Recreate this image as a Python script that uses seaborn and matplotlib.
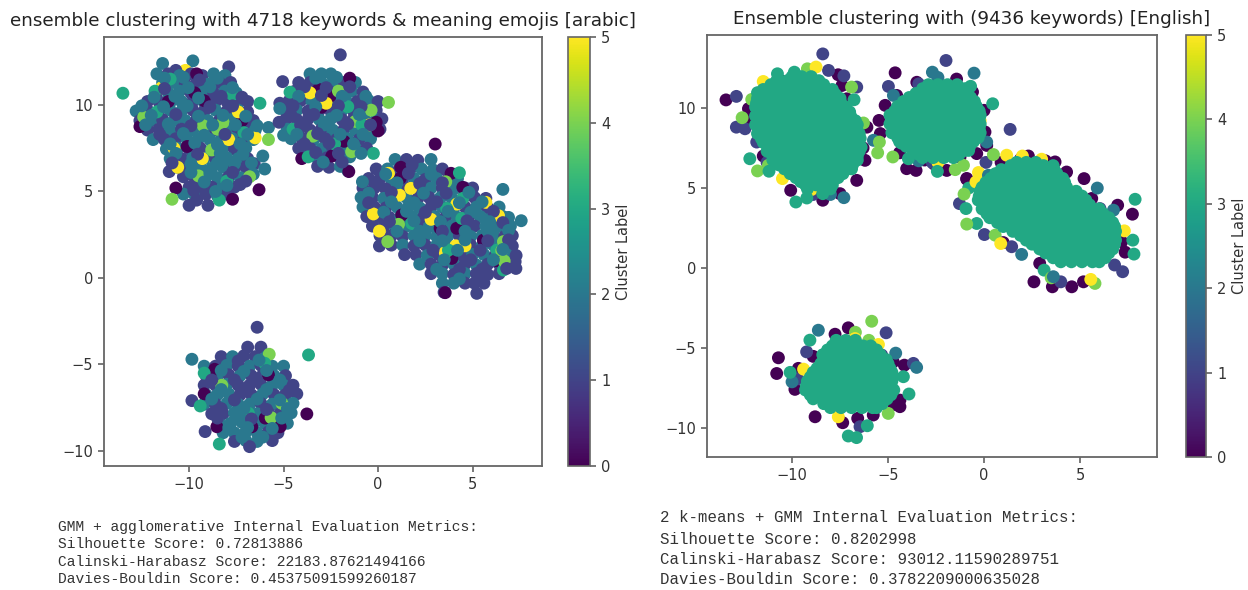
import pandas as pd
import seaborn as sns
import matplotlib.pyplot as plt
from matplotlib.cm import ScalarMappable
from matplotlib.colors import Normalize

W, H = 1248, 590

title_left = "ensemble clustering with 4718 keywords & meaning emojis [arabic]"
title_right = "Ensemble clustering with (9436 keywords) [English]"
metrics_left = [
    "GMM + agglomerative Internal Evaluation Metrics:",
    "Silhouette Score: 0.72813886",
    "Calinski-Harabasz Score: 22183.87621494166",
    "Davies-Bouldin Score: 0.45375091599260187",
]
metrics_right = [
    "2 k-means + GMM Internal Evaluation Metrics:",
    "Silhouette Score: 0.8202998",
    "Calinski-Harabasz Score: 93012.11590289751",
    "Davies-Bouldin Score: 0.3782209000635028",
]

# left panel: (x, y, cluster label), in drawing order
left_a = [
    (-11.4,12.4,2),(-9.8,12.55,2),(-10.2,12.0,5),(-10.7,12.0,1),(-7.9,12.2,1),
    (-11.7,11.8,2),(-11.1,11.8,1),(-10.5,11.7,2),(-9.9,11.8,1),(-9.3,11.7,1),(-8.7,11.8,2),(-8.1,11.7,2),
    (-11.4,11.3,2),(-10.8,11.3,2),(-10.2,11.2,1),(-9.6,11.3,1),(-9.0,11.2,2),(-8.4,11.3,1),(-7.8,11.3,1),
    (-11.7,10.75,1),(-11.1,10.7,2),(-10.5,10.8,2),(-9.9,10.7,1),(-9.3,10.75,2),(-8.7,10.7,1),(-8.1,10.8,2),(-7.5,10.7,2),
    (-12.2,10.2,1),(-11.6,10.2,1),(-11.0,10.15,2),(-10.4,10.2,2),(-9.8,10.2,1),(-9.2,10.15,2),(-8.6,10.2,1),(-8.0,10.2,1),(-7.4,10.2,1),(-6.9,10.2,1),
    (-12.8,9.65,2),(-12.2,9.7,1),(-11.6,9.65,2),(-11.0,9.7,2),(-10.4,9.65,2),(-9.8,9.7,1),(-9.2,9.65,1),(-8.6,9.7,2),(-8.0,9.65,1),(-7.4,9.7,2),(-6.9,9.6,1),
    (-12.6,9.1,1),(-12.0,9.1,2),(-11.4,9.15,1),(-10.8,9.1,2),(-10.2,9.1,2),(-9.6,9.15,1),(-9.0,9.1,2),(-8.4,9.1,1),(-7.8,9.15,2),(-7.2,9.1,1),(-6.6,9.1,1),
    (-12.2,8.55,1),(-11.6,8.6,1),(-11.0,8.55,2),(-10.4,8.6,1),(-9.8,8.55,2),(-9.2,8.6,2),(-8.6,8.55,1),(-8.0,8.6,2),(-7.4,8.55,1),(-6.8,8.6,1),
    (-11.9,8.0,2),(-11.3,8.0,1),(-10.7,8.05,1),(-10.1,8.0,2),(-9.5,8.05,2),(-8.9,8.0,2),(-8.3,8.0,2),(-7.7,8.05,2),(-7.1,8.0,1),(-6.6,8.0,2),
    (-11.2,7.45,2),(-10.6,7.5,2),(-10.0,7.45,1),(-9.4,7.5,1),(-8.8,7.45,2),(-8.2,7.5,2),(-7.6,7.45,1),(-7.0,7.5,2),
    (-11.0,6.9,2),(-10.4,6.9,1),(-9.8,6.95,2),(-9.2,6.9,2),(-8.6,6.9,1),(-8.0,6.95,2),(-7.4,6.9,2),(-6.9,6.9,1),
    (-11.05,6.15,1),(-10.6,6.4,2),(-10.0,6.35,1),(-9.4,6.4,2),(-8.8,6.35,2),(-8.2,6.4,2),(-7.6,6.35,1),(-7.0,6.4,1),
    (-10.3,5.85,1),(-9.7,5.8,1),(-9.1,5.85,2),(-8.5,5.8,2),(-7.9,5.85,1),(-7.3,5.8,2),
    (-10.0,5.25,1),(-9.4,5.3,1),(-8.8,5.25,1),(-8.2,5.3,2),(-7.6,5.25,1),(-7.3,5.4,1),
    (-10.3,4.85,2),(-9.7,4.8,2),(-9.1,4.85,1),(-8.5,4.75,2),(-8.0,4.85,1),
    (-10.0,4.2,1),(-9.0,4.2,1),(-9.6,4.5,1),
    (-6.55,6.6,1),(-6.6,6.0,2),(-6.5,8.55,2),(-5.8,8.7,2),(-6.1,7.05,2),(-6.0,6.3,2),
    (-12.6,8.75,0),(-10.1,7.6,0),(-9.2,10.25,0),(-7.2,9.1,0),(-10.7,5.2,0),(-6.3,5.1,0),(-7.7,4.55,0),(-9.6,11.8,0),(-9.7,10.7,0),(-11.1,10.2,0),
    (-11.45,11.0,5),(-10.8,7.5,5),(-9.3,6.9,5),(-10.6,6.4,5),(-7.9,8.0,5),(-6.5,8.1,5),(-7.4,9.6,5),
    (-8.2,9.0,4),(-12.4,9.3,4),(-9.25,8.8,4),(-8.5,8.6,4),(-9.5,5.9,4),(-10.9,4.55,4),(-5.8,8.0,4),(-6.8,5.85,4),(-8.8,7.4,4),
    (-13.5,10.68,3),(-11.0,11.5,3),(-11.7,9.6,3),(-7.7,10.6,3),(-6.25,10.1,3),(-7.1,8.4,3),(-8.4,4.5,3),(-8.0,5.6,3),(-11.8,10.8,3),
]
left_a_top = [
    (-11.3,11.55,2),(-10.3,11.6,2),(-9.45,11.45,1),(-8.5,11.55,2),(-7.7,11.0,2),(-8.9,11.05,2),(-10.05,11.0,2),(-11.3,10.95,1),
    (-11.85,10.45,2),(-10.75,10.5,2),(-9.5,10.4,2),(-8.3,10.5,1),(-7.2,10.45,1),(-12.5,9.95,2),(-11.35,9.9,2),(-10.1,9.95,2),(-8.9,9.9,1),(-7.7,9.95,1),
    (-12.0,9.4,2),(-10.7,9.45,1),(-9.5,9.35,2),(-8.2,9.4,2),(-7.0,9.35,2),(-12.3,8.85,2),(-11.1,8.9,2),(-9.9,8.8,1),(-8.75,8.85,2),(-7.55,8.85,2),(-6.4,8.8,2),
    (-11.55,8.3,1),(-10.3,8.35,2),(-9.2,8.25,2),(-8.1,8.3,1),(-6.9,8.3,2),(-11.0,7.75,2),(-9.7,7.8,2),(-8.5,7.7,2),(-7.3,7.75,2),
    (-10.7,7.2,2),(-9.55,7.15,1),(-8.35,7.2,2),(-7.15,7.15,2),(-10.9,6.65,1),(-9.9,6.6,2),(-8.5,6.65,2),(-7.6,6.6,2),(-6.7,6.65,2),
    (-9.9,6.1,2),(-8.9,6.05,2),(-7.7,6.1,1),(-9.2,5.55,2),(-8.0,5.35,2),(-7.0,5.6,1),(-9.75,5.05,1),(-8.6,5.0,2),
]
left_b = [
    (-3.6,11.8,2),(-3.0,11.8,2),(-2.5,11.8,2),
    (-4.2,11.3,1),(-3.6,11.3,1),(-3.0,11.3,2),(-2.4,11.3,2),(-1.8,11.3,1),(-1.2,11.3,2),
    (-4.4,10.8,1),(-3.8,10.8,2),(-3.2,10.75,1),(-2.6,10.8,1),(-2.0,10.75,2),(-1.4,10.8,2),(-0.8,10.75,1),
    (-4.7,10.25,1),(-4.1,10.25,1),(-3.5,10.2,2),(-2.9,10.25,1),(-2.3,10.2,2),(-1.7,10.25,2),(-1.1,10.2,1),(-0.5,10.25,2),(0.0,10.2,1),
    (-4.9,9.7,1),(-4.3,9.7,2),(-3.7,9.65,1),(-3.1,9.7,1),(-2.5,9.65,1),(-1.9,9.7,2),(-1.3,9.65,1),(-0.7,9.7,1),(-0.1,9.7,1),
    (-4.9,9.15,1),(-4.3,9.15,1),(-3.7,9.2,1),(-3.1,9.15,2),(-2.5,9.2,2),(-1.9,9.15,1),(-1.3,9.2,1),(-0.7,9.15,2),(-0.1,9.15,2),(0.2,9.2,1),
    (-4.8,8.6,2),(-4.2,8.6,1),(-3.6,8.55,1),(-3.0,8.6,1),(-2.4,8.55,2),(-1.8,8.6,1),(-1.2,8.55,2),(-0.6,8.6,2),(0.1,8.6,1),
    (-4.6,8.05,2),(-4.0,8.05,1),(-3.4,8.0,2),(-2.8,8.05,1),(-2.2,8.0,1),(-1.6,8.05,2),(-1.0,8.0,1),(-0.4,8.05,2),
    (-4.2,7.5,1),(-3.6,7.5,1),(-3.0,7.45,2),(-2.4,7.5,1),(-1.8,7.45,2),(-1.2,7.5,2),(-0.6,7.5,1),
    (-3.9,7.0,1),(-3.3,7.0,2),(-2.7,6.95,1),(-2.1,7.0,1),(-1.5,7.0,2),
    (-3.2,6.45,1),(-2.6,6.4,1),(-2.0,6.45,2),(-1.6,6.2,2),
    (-2.0,12.9,1),(-5.05,11.35,1),(-5.2,10.1,1),(-5.24,9.0,1),(-5.0,8.25,2),(-5.2,9.8,2),
    (-3.15,10.9,0),(-2.54,10.5,0),(-3.0,9.87,0),(-1.5,11.55,0),(-0.1,9.0,0),(0.0,8.5,0),(-2.45,7.05,0),(-1.8,7.9,0),(-4.04,6.9,0),(-1.55,6.15,0),
    (-3.6,10.7,5),(-2.75,10.1,5),(-0.46,8.85,5),
    (-2.1,10.8,4),(-0.37,9.7,4),(-1.4,7.3,4),(-3.45,8.2,4),(-1.2,9.05,4),(0.55,10.15,4),
    (-4.5,8.6,3),(-2.3,7.75,3),(-3.7,7.0,3),(-1.6,9.9,3),(-0.86,8.85,3),(-4.66,10.74,3),(-0.25,7.2,3),
]
left_b_top = [
    (-3.3,11.55,2),(-2.2,11.6,2),(-3.9,11.05,1),(-2.75,11.0,1),(-1.5,11.05,1),(-4.2,10.5,2),(-3.0,10.55,1),(-1.9,10.5,2),(-0.65,10.5,2),
    (-4.5,9.95,1),(-3.3,9.9,2),(-2.1,9.95,1),(-0.9,9.9,1),(-4.6,9.4,1),(-3.4,9.45,1),(-2.2,9.4,2),(-1.0,9.45,2),(-4.1,8.85,1),(-2.85,8.85,2),(-1.6,8.9,1),(-0.4,8.85,1),
    (-4.3,8.3,2),(-3.2,8.35,1),(-2.0,8.3,2),(-0.8,8.3,2),(-3.9,7.75,1),(-2.6,7.8,1),(-1.3,7.75,2),(-3.3,7.25,1),(-2.1,7.2,1),(-0.9,7.2,2),(-2.9,6.7,2),(-1.9,6.7,1),
]
left_c = [
    (0.9,6.85,2),(1.5,6.85,1),(2.1,6.8,1),(2.8,6.85,2),
    (-0.1,6.3,1),(0.5,6.3,2),(1.1,6.25,1),(1.7,6.3,1),(2.3,6.3,2),(2.9,6.25,2),(3.4,6.3,1),
    (-0.5,5.75,1),(0.1,5.75,1),(0.7,5.7,2),(1.3,5.75,1),(1.9,5.75,2),(2.5,5.7,1),(3.1,5.75,2),(3.7,5.7,1),(4.2,5.75,2),
    (-0.8,5.2,1),(-0.2,5.2,1),(0.4,5.15,1),(1.0,5.2,2),(1.6,5.2,1),(2.2,5.15,1),(2.8,5.2,2),(3.4,5.2,1),(4.0,5.15,2),(4.6,5.2,1),(5.0,5.2,1),
    (-0.9,4.65,2),(-0.3,4.65,1),(0.3,4.6,2),(0.9,4.65,2),(1.5,4.65,2),(2.1,4.6,1),(2.7,4.65,1),(3.3,4.65,2),(3.9,4.6,2),(4.5,4.65,1),(5.1,4.65,1),(5.7,4.6,1),
    (-0.8,4.1,2),(-0.2,4.1,1),(0.4,4.05,1),(1.0,4.1,2),(1.6,4.1,2),(2.2,4.05,2),(2.8,4.1,1),(3.4,4.1,2),(4.0,4.05,2),(4.6,4.1,1),(5.2,4.1,2),(5.8,4.05,1),(6.4,4.1,2),
    (-0.6,3.55,1),(0.0,3.55,1),(0.6,3.5,1),(1.2,3.55,2),(1.8,3.55,2),(2.4,3.5,1),(3.0,3.55,2),(3.6,3.55,1),(4.2,3.5,2),(4.8,3.55,1),(5.4,3.55,2),(6.0,3.5,2),(6.6,3.55,2),(6.9,3.5,2),
    (-0.3,3.0,1),(0.3,3.0,1),(0.9,2.95,2),(1.5,3.0,2),(2.1,3.0,1),(2.7,2.95,2),(3.3,3.0,1),(3.9,3.0,2),(4.5,2.95,2),(5.1,3.0,1),(5.7,3.0,2),(6.3,2.95,2),(7.0,3.0,2),
    (0.1,2.45,1),(0.7,2.45,1),(1.3,2.4,1),(1.9,2.45,2),(2.5,2.45,2),(3.1,2.4,2),(3.7,2.45,2),(4.3,2.45,1),(4.9,2.4,2),(5.5,2.45,2),(6.1,2.45,2),(6.7,2.4,1),(7.1,2.45,1),
    (0.7,1.9,1),(1.3,1.9,2),(1.9,1.85,1),(2.5,1.9,1),(3.1,1.9,2),(3.7,1.85,2),(4.3,1.9,1),(4.9,1.9,1),(5.5,1.85,2),(6.1,1.9,2),(6.7,1.9,2),(7.1,1.85,1),
    (1.4,1.35,1),(2.0,1.35,1),(2.6,1.3,2),(3.2,1.35,1),(3.8,1.35,2),(4.4,1.3,1),(5.0,1.35,2),(5.6,1.35,2),(6.2,1.3,1),(6.8,1.35,2),(7.3,1.3,1),
    (2.2,0.8,2),(2.8,0.8,1),(3.4,0.75,1),(4.0,0.8,2),(4.6,0.8,1),(5.2,0.75,2),(5.8,0.8,1),(6.4,0.8,1),(7.25,0.94,1),
    (2.8,0.25,1),(3.4,0.25,2),(4.0,0.2,1),(4.6,0.25,2),(5.2,0.25,1),(5.8,0.2,1),(6.4,0.25,1),(7.29,0.55,1),
    (3.4,-0.3,2),(4.0,-0.3,2),(4.6,-0.3,1),(5.1,-0.3,1),(5.6,-0.3,1),
    (3.49,-0.83,1),(5.22,-0.89,1),(0.07,1.85,1),(-0.83,5.56,2),(6.6,5.12,2),(7.57,3.31,2),(3.55,-0.85,0),
    (3.02,7.74,0),(1.17,5.76,0),(4.48,5.24,0),(3.28,2.87,0),(4.16,2.87,0),(1.25,3.64,0),(5.57,2.19,0),(3.9,1.13,0),(6.28,1.0,0),(3.86,6.05,0),(1.2,6.4,0),
    (1.73,5.18,5),(2.8,3.39,5),(5.7,4.37,5),(6.37,3.6,5),(-0.25,3.7,5),(0.07,2.71,5),(4.11,1.86,5),(3.55,1.48,5),(4.6,1.86,5),(0.55,6.05,5),(1.13,4.79,5),(4.16,4.27,5),
    (4.3,6.08,3),(1.78,3.15,3),(3.63,4.02,3),(4.43,3.44,3),(3.72,1.61,3),(6.28,1.61,3),(6.63,0.46,3),(4.48,4.6,3),
    (0.51,2.1,4),(3.58,5.56,4),(1.08,3.1,4),(6.54,1.58,4),(6.67,0.98,4),(6.63,2.1,4),
]
left_c_top = [
    (1.8,6.55,1),(0.4,6.0,2),(1.6,6.05,1),(2.8,6.0,2),(-0.1,5.45,1),(1.0,5.5,2),(2.2,5.45,1),(3.4,5.5,1),(-0.5,4.9,2),(0.7,4.95,1),(2.4,4.9,2),(3.6,4.9,1),(4.8,4.95,2),
    (-0.5,4.35,1),(0.7,4.4,2),(1.9,4.35,2),(3.1,4.4,1),(4.3,4.35,2),(5.5,4.4,2),(0.3,3.8,2),(1.5,3.85,2),(2.5,3.8,1),(3.7,3.85,2),(4.9,3.8,2),(6.1,3.85,1),
    (0.6,3.25,1),(1.9,3.3,2),(3.3,3.25,2),(4.7,3.3,1),(5.9,3.25,2),(6.6,3.2,1),(1.0,2.7,2),(2.2,2.7,2),(3.4,2.7,1),(4.6,2.7,2),(5.8,2.7,2),(6.9,2.75,2),
    (2.2,2.15,2),(3.4,2.15,2),(4.6,2.2,2),(5.8,2.15,1),(6.9,2.2,1),(2.9,1.6,1),(4.2,1.6,2),(5.4,1.6,1),(6.6,1.65,2),(3.5,1.05,2),(4.9,1.05,1),(6.1,1.05,2),
    (3.1,0.5,2),(4.3,0.5,1),(5.5,0.5,1),(6.8,0.55,1),(4.3,-0.05,2),(5.5,0.0,1),
]
left_d = [
    (-6.9,-4.0,1),(-6.2,-4.0,1),(-6.4,-2.85,1),
    (-8.3,-4.55,1),(-7.7,-4.55,2),(-7.1,-4.5,1),(-6.5,-4.55,1),(-5.9,-4.55,2),
    (-9.2,-5.1,2),(-8.6,-5.1,1),(-8.0,-5.05,2),(-7.4,-5.1,1),(-6.8,-5.1,2),(-6.2,-5.05,1),(-5.6,-5.1,2),(-5.0,-5.1,2),
    (-9.1,-5.65,1),(-8.5,-5.65,2),(-7.9,-5.6,1),(-7.3,-5.65,2),(-6.7,-5.65,1),(-6.1,-5.6,1),(-5.5,-5.65,2),(-4.9,-5.65,1),
    (-9.2,-6.2,1),(-8.6,-6.2,1),(-8.0,-6.15,2),(-7.4,-6.2,1),(-6.8,-6.2,1),(-6.2,-6.15,1),(-5.6,-6.2,2),(-5.0,-6.2,2),(-4.5,-6.2,1),
    (-9.1,-6.75,2),(-8.5,-6.75,2),(-7.9,-6.7,2),(-7.3,-6.75,1),(-6.7,-6.75,1),(-6.1,-6.7,2),(-5.5,-6.75,1),(-4.9,-6.75,1),(-4.3,-6.7,1),
    (-9.2,-7.3,2),(-8.6,-7.3,1),(-8.0,-7.25,2),(-7.4,-7.3,2),(-6.8,-7.3,2),(-6.2,-7.25,1),(-5.6,-7.3,2),(-5.0,-7.3,2),(-4.5,-7.25,2),
    (-8.8,-7.85,1),(-8.2,-7.85,1),(-7.6,-7.8,2),(-7.0,-7.85,1),(-6.4,-7.85,2),(-5.8,-7.8,1),(-5.2,-7.85,1),(-4.6,-7.8,2),
    (-8.4,-8.4,2),(-7.8,-8.4,2),(-7.2,-8.35,2),(-6.6,-8.4,2),(-6.0,-8.4,2),(-5.4,-8.35,1),(-4.8,-8.4,2),
    (-8.2,-8.95,2),(-7.6,-8.95,2),(-7.0,-8.9,2),(-6.4,-8.95,2),(-5.8,-8.9,1),(-5.3,-8.95,1),
    (-7.6,-9.45,1),(-7.0,-9.4,2),(-6.4,-9.45,2),(-5.6,-9.4,1),
    (-9.15,-8.88,1),(-6.8,-9.75,1),(-9.85,-7.09,1),(-9.85,-4.7,2),(-8.4,-9.6,3),
    (-3.77,-7.86,0),(-8.65,-5.28,0),(-5.8,-5.6,0),(-6.68,-8.6,0),(-5.97,-8.1,0),(-8.53,-8.6,0),(-5.18,-8.6,0),(-9.2,-6.7,0),
    (-5.76,-4.41,4),(-8.27,-6.2,4),(-5.66,-8.07,4),(-5.09,-7.25,4),
    (-3.68,-4.45,3),(-9.41,-7.4,3),(-6.0,-4.93,3),(-6.86,-7.82,3),(-9.2,-5.5,3),
]
left_d_top = [
    (-7.4,-4.8,1),(-6.3,-4.75,2),(-8.3,-5.35,2),(-7.1,-5.4,2),(-5.9,-5.35,2),(-8.8,-5.9,1),(-7.6,-5.9,1),(-6.4,-5.95,1),(-5.2,-5.9,2),
    (-8.3,-6.45,2),(-7.1,-6.5,1),(-5.9,-6.45,2),(-4.7,-6.5,1),(-8.8,-7.0,2),(-7.6,-7.05,1),(-6.4,-7.0,2),(-5.2,-7.05,2),(-8.3,-7.55,1),(-7.1,-7.55,2),(-5.9,-7.6,1),(-4.8,-7.55,2),
    (-8.5,-8.1,1),(-7.3,-8.1,2),(-6.7,-8.15,1),(-5.1,-8.1,2),(-7.9,-8.65,2),(-6.9,-8.65,2),(-5.6,-8.7,2),(-7.2,-9.2,2),(-6.1,-9.2,2),
]

# right panel: points around each blob, then the solid core of label 3 as (y, [x, ...])
right_a_edge = [
    (-13.44,10.5,0),(-12.15,9.22,0),(-7.6,12.07,0),(-7.15,10.57,0),(-6.55,8.9,0),(-6.1,8.8,0),(-6.2,6.73,0),(-6.63,5.48,0),(-7.5,4.65,0),
    (-8.4,4.24,0),(-10.07,4.86,0),(-7.4,11.4,0),(-12.27,9.95,0),(-9.6,11.9,0),(-10.6,11.7,0),(-6.3,7.5,0),(-11.5,7.0,0),(-7.9,4.9,0),
    (-12.9,10.72,1),(-12.9,8.8,1),(-12.45,8.7,1),(-8.4,13.37,1),(-8.1,12.34,1),(-6.63,11.3,1),(-7.3,12.0,1),(-11.84,7.87,1),(-8.9,4.6,1),(-11.3,6.6,1),
    (-12.6,9.39,4),(-12.1,10.53,4),(-9.2,12.44,4),(-6.28,9.06,4),(-11.8,6.07,4),(-11.23,6.42,4),(-6.9,11.3,4),
    (-11.5,11.65,5),(-8.75,12.55,5),(-10.5,5.59,5),(-11.3,11.2,5),(-9.0,4.9,5),
    (-7.3,4.4,2),(-8.0,4.6,2),(-6.6,8.3,2),
    (-12.2,6.83,3),(-11.8,10.95,3),(-11.2,6.05,3),(-9.8,4.13,3),(-9.23,4.38,3),(-8.4,4.65,3),(-10.76,12.13,3),(-6.77,10.51,3),(-9.88,12.23,3),
]
right_a_core = [
    (11.95, [-10.0,-9.5,-9.0]),
    (11.7, [-10.8,-10.25,-9.7,-9.15,-8.6]),
    (11.45, [-11.1,-10.55,-10.0,-9.45,-8.9,-8.35]),
    (11.15, [-11.5,-10.95,-10.4,-9.85,-9.3,-8.75,-8.2,-7.9]),
    (10.85, [-11.6,-11.05,-10.5,-9.95,-9.4,-8.85,-8.3,-7.75]),
    (10.6, [-11.8,-11.25,-10.7,-10.15,-9.6,-9.05,-8.5,-7.95,-7.5]),
    (10.3, [-11.85,-11.3,-10.75,-10.2,-9.65,-9.1,-8.55,-8.0,-7.45]),
    (10.05, [-11.9,-11.35,-10.8,-10.25,-9.7,-9.15,-8.6,-8.05,-7.5,-7.2]),
    (9.75, [-11.65,-11.1,-10.55,-10.0,-9.45,-8.9,-8.35,-7.8,-7.25,-7.0]),
    (9.5, [-11.9,-11.35,-10.8,-10.25,-9.7,-9.15,-8.6,-8.05,-7.5,-6.95]),
    (9.2, [-11.65,-11.1,-10.55,-10.0,-9.45,-8.9,-8.35,-7.8,-7.25,-6.7]),
    (8.95, [-11.9,-11.35,-10.8,-10.25,-9.7,-9.15,-8.6,-8.05,-7.5,-6.95,-6.6]),
    (8.65, [-11.6,-11.05,-10.5,-9.95,-9.4,-8.85,-8.3,-7.75,-7.2,-6.65]),
    (8.4, [-11.8,-11.25,-10.7,-10.15,-9.6,-9.05,-8.5,-7.95,-7.4,-6.85,-6.5]),
    (8.1, [-11.6,-11.05,-10.5,-9.95,-9.4,-8.85,-8.3,-7.75,-7.2,-6.65,-6.45]),
    (7.85, [-11.5,-10.95,-10.4,-9.85,-9.3,-8.75,-8.2,-7.65,-7.1,-6.55]),
    (7.55, [-11.25,-10.7,-10.15,-9.6,-9.05,-8.5,-7.95,-7.4,-6.85,-6.4]),
    (7.3, [-11.3,-10.75,-10.2,-9.65,-9.1,-8.55,-8.0,-7.45,-6.9,-6.5]),
    (7.0, [-11.0,-10.45,-9.9,-9.35,-8.8,-8.25,-7.7,-7.15,-6.6]),
    (6.75, [-11.0,-10.45,-9.9,-9.35,-8.8,-8.25,-7.7,-7.15,-6.6]),
    (6.45, [-10.7,-10.15,-9.6,-9.05,-8.5,-7.95,-7.4,-6.85]),
    (6.2, [-10.4,-9.85,-9.3,-8.75,-8.2,-7.65,-7.1,-6.9]),
    (5.9, [-10.1,-9.55,-9.0,-8.45,-7.9,-7.35]),
    (5.65, [-9.8,-9.25,-8.7,-8.15,-7.6]),
    (5.4, [-9.55,-9.0,-8.45,-7.9]),
    (5.2, [-9.3,-8.75,-8.2,-7.9]),
    (4.95, [-9.2,-8.4,-8.0]),
]
right_b_edge = [
    (-3.5,11.6,0),(-1.43,11.8,0),(-5.15,10.16,0),(-5.47,9.22,0),(-5.4,8.4,0),(-4.55,10.78,0),(0.0,9.85,0),(0.05,8.5,0),(-0.38,7.15,0),(-1.25,6.94,0),
    (-4.03,6.21,0),(-3.54,6.1,0),(-1.94,6.1,0),(-3.1,6.75,0),(0.14,7.66,0),(-0.9,5.55,0),(-4.63,12.19,0),(-4.4,7.2,0),(-0.6,11.0,0),(-2.6,6.5,0),
    (-1.98,12.96,1),(-4.98,11.34,1),(1.36,8.66,1),(-2.7,6.6,1),(-3.4,11.5,1),(-0.8,11.2,1),
    (-0.52,12.17,2),(-2.69,12.23,2),(-4.72,10.78,2),(0.14,7.87,2),(-5.76,7.98,2),(-3.4,6.7,2),(-2.4,11.9,2),
    (-2.4,6.6,5),(-0.2,9.2,5),
    (-5.54,7.2,4),(-5.45,7.87,4),(-4.75,6.94,4),(-1.07,6.42,4),(-1.5,6.15,4),(-0.8,8.0,4),
    (0.45,10.26,3),(-2.43,6.04,3),(-3.94,6.83,3),(-0.7,11.35,3),(-4.3,7.8,3),
]
right_b_core = [
    (11.45, [-2.9,-2.4,-1.9,-1.4]),
    (11.2, [-3.2,-2.65,-2.1,-1.55,-1.0]),
    (10.9, [-3.55,-3.0,-2.45,-1.9,-1.35,-0.85]),
    (10.65, [-3.9,-3.35,-2.8,-2.25,-1.7,-1.15,-0.7]),
    (10.4, [-4.2,-3.65,-3.1,-2.55,-2.0,-1.45,-0.9,-0.5]),
    (10.1, [-4.5,-3.95,-3.4,-2.85,-2.3,-1.75,-1.2,-0.65,-0.4]),
    (9.8, [-4.65,-4.1,-3.55,-3.0,-2.45,-1.9,-1.35,-0.8,-0.25]),
    (9.55, [-4.9,-4.35,-3.8,-3.25,-2.7,-2.15,-1.6,-1.05,-0.5,-0.2]),
    (9.25, [-4.65,-4.1,-3.55,-3.0,-2.45,-1.9,-1.35,-0.8,-0.25]),
    (9.0, [-4.9,-4.35,-3.8,-3.25,-2.7,-2.15,-1.6,-1.05,-0.5,-0.2]),
    (8.7, [-4.65,-4.1,-3.55,-3.0,-2.45,-1.9,-1.35,-0.8,-0.25]),
    (8.45, [-4.8,-4.25,-3.7,-3.15,-2.6,-2.05,-1.5,-0.95,-0.4,-0.2]),
    (8.15, [-4.5,-3.95,-3.4,-2.85,-2.3,-1.75,-1.2,-0.65,-0.3]),
    (7.9, [-4.4,-3.85,-3.3,-2.75,-2.2,-1.65,-1.1,-0.55]),
    (7.6, [-4.05,-3.5,-2.95,-2.4,-1.85,-1.3,-0.75]),
    (7.35, [-3.7,-3.15,-2.6,-2.05,-1.5,-1.0,-0.8]),
    (7.1, [-3.4,-2.85,-2.3,-1.75,-1.3]),
    (6.9, [-3.2,-2.65,-2.1,-1.6]),
]
right_c_edge = [
    (-0.9,5.6,0),(0.89,6.6,0),(2.31,7.0,0),(3.7,6.63,0),(5.21,5.59,0),(5.61,4.35,0),(6.96,3.93,0),(7.73,3.37,0),(7.17,1.65,0),(2.6,-0.85,0),
    (3.56,-1.16,0),(4.57,-1.16,0),(5.18,-0.85,0),(7.35,1.0,0),(3.2,6.7,0),(1.9,6.8,0),(4.3,6.0,0),(6.5,2.9,0),(2.9,0.3,0),(1.0,1.6,0),
    (-1.28,4.03,1),(0.02,2.1,1),(7.22,-0.22,1),(6.04,3.72,1),(1.44,1.34,1),(4.0,-0.85,1),(0.1,6.6,1),(6.8,0.2,1),
    (7.87,4.3,3),(7.75,1.75,3),(7.81,0.88,3),(3.13,-0.12,3),(-0.94,3.72,3),(-0.38,2.79,3),(-0.8,5.0,3),
    (0.49,7.09,4),(-1.04,4.62,4),(-0.9,2.75,4),(0.58,2.06,4),(5.78,-0.95,4),(3.5,-0.6,4),
    (-0.29,5.97,5),(-0.42,5.38,5),(4.74,4.76,5),(7.31,2.33,5),(0.87,1.54,5),(1.18,7.05,5),(2.0,7.0,5),(5.56,-0.7,5),(3.0,6.8,5),
    (0.23,5.8,2),(1.96,0.86,2),(3.61,-0.53,2),(6.74,3.62,2),(5.9,5.0,2),
]
right_c_core = [
    (6.6, [1.7,2.2,2.7]),
    (6.4, [1.4,1.95,2.5,3.1,3.6]),
    (6.15, [0.9,1.45,2.0,2.55,3.1,3.65]),
    (5.9, [0.6,1.15,1.7,2.25,2.8,3.35,3.8]),
    (5.6, [0.35,0.9,1.45,2.0,2.55,3.1,3.65,4.1]),
    (5.35, [0.1,0.65,1.2,1.75,2.3,2.85,3.4,3.95,4.2]),
    (5.05, [-0.1,0.45,1.0,1.55,2.1,2.65,3.2,3.75,4.3]),
    (4.8, [-0.2,0.35,0.9,1.45,2.0,2.55,3.1,3.65,4.2,4.8]),
    (4.5, [-0.25,0.3,0.85,1.4,1.95,2.5,3.05,3.6,4.15,4.7,5.1]),
    (4.25, [-0.3,0.25,0.8,1.35,1.9,2.45,3.0,3.55,4.1,4.65,5.2,5.3]),
    (3.95, [0.0,0.55,1.1,1.65,2.2,2.75,3.3,3.85,4.4,4.95,5.5]),
    (3.7, [-0.1,0.45,1.0,1.55,2.1,2.65,3.2,3.75,4.3,4.85,5.4,6.0]),
    (3.4, [0.15,0.7,1.25,1.8,2.35,2.9,3.45,4.0,4.55,5.1,5.65,6.2]),
    (3.15, [0.3,0.85,1.4,1.95,2.5,3.05,3.6,4.15,4.7,5.25,5.8,6.35,6.5]),
    (2.85, [0.7,1.25,1.8,2.35,2.9,3.45,4.0,4.55,5.1,5.65,6.2,6.7]),
    (2.6, [1.0,1.55,2.1,2.65,3.2,3.75,4.3,4.85,5.4,5.95,6.5,6.8]),
    (2.3, [1.5,2.05,2.6,3.15,3.7,4.25,4.8,5.35,5.9,6.45,6.85]),
    (2.05, [1.9,2.45,3.0,3.55,4.1,4.65,5.2,5.75,6.3,6.8]),
    (1.75, [2.2,2.75,3.3,3.85,4.4,4.95,5.5,6.05,6.6,6.85]),
    (1.5, [2.5,3.05,3.6,4.15,4.7,5.25,5.8,6.35,6.8]),
    (1.2, [2.9,3.45,4.0,4.55,5.1,5.65,6.2,6.7]),
    (0.95, [3.2,3.75,4.3,4.85,5.4,5.95,6.5]),
    (0.65, [3.6,4.15,4.7,5.25,5.8,6.3]),
    (0.4, [4.0,4.55,5.1,5.65,6.0]),
]
right_d_edge = [
    (-10.71,-5.59,0),(-10.8,-6.57,0),(-7.07,-3.72,0),(-7.76,-4.12,0),(-9.67,-6.25,0),(-9.85,-7.56,0),(-8.8,-9.27,0),(-7.36,-9.64,0),(-6.58,-9.37,0),
    (-5.77,-9.16,0),(-4.38,-8.23,0),(-4.38,-8.64,0),(-4.15,-6.05,0),(-4.73,-5.84,0),(-8.9,-5.5,0),(-4.7,-8.5,0),
    (-5.1,-4.03,1),(-3.68,-5.94,1),(-9.24,-5.22,1),(-5.33,-5.42,1),(-9.7,-6.9,1),(-6.46,-9.89,1),
    (-8.63,-3.87,2),(-3.51,-6.19,2),(-10.0,-7.09,2),(-4.6,-5.3,2),
    (-5.85,-3.31,4),(-4.99,-9.06,4),(-6.7,-4.0,4),(-6.0,-4.5,4),
    (-5.5,-4.76,5),(-7.59,-9.27,5),(-6.72,-4.39,5),(-9.4,-6.3,5),
    (-7.07,-10.47,3),(-6.64,-10.57,3),(-6.08,-9.83,3),(-10.1,-6.5,3),(-9.07,-4.49,3),(-3.91,-7.85,3),(-4.2,-6.77,3),
]
right_d_core = [
    (-4.5, [-7.7,-7.2,-6.7]),
    (-4.85, [-7.9,-7.35,-6.8,-6.3,-5.9]),
    (-5.1, [-8.15,-7.6,-7.05,-6.5,-5.95,-5.6]),
    (-5.4, [-8.4,-7.85,-7.3,-6.75,-6.2,-5.65,-5.4]),
    (-5.7, [-8.2,-7.65,-7.1,-6.55,-6.0,-5.45,-5.1]),
    (-5.95, [-8.5,-7.95,-7.4,-6.85,-6.3,-5.75,-5.2,-5.0]),
    (-6.25, [-8.7,-8.15,-7.6,-7.05,-6.5,-5.95,-5.4,-4.9]),
    (-6.5, [-8.9,-8.35,-7.8,-7.25,-6.7,-6.15,-5.6,-5.05,-4.8]),
    (-6.8, [-9.05,-8.5,-7.95,-7.4,-6.85,-6.3,-5.75,-5.2,-4.75]),
    (-7.05, [-9.2,-8.65,-8.1,-7.55,-7.0,-6.45,-5.9,-5.35,-4.8]),
    (-7.35, [-9.25,-8.7,-8.15,-7.6,-7.05,-6.5,-5.95,-5.4,-4.85]),
    (-7.6, [-9.3,-8.75,-8.2,-7.65,-7.1,-6.55,-6.0,-5.45,-4.9,-4.7]),
    (-7.9, [-9.05,-8.5,-7.95,-7.4,-6.85,-6.3,-5.75,-5.2,-4.85]),
    (-8.15, [-8.9,-8.35,-7.8,-7.25,-6.7,-6.15,-5.6,-5.05]),
    (-8.45, [-8.35,-7.8,-7.25,-6.7,-6.15,-5.6,-5.3]),
    (-8.7, [-8.0,-7.45,-6.9,-6.35,-5.8,-5.6]),
]


def core_points(rows):
    return [(x, y, 3) for y, xs in rows for x in xs]


def add_axes_px(fig, left, top, right, bottom):
    return fig.add_axes([left / W, 1 - bottom / H, (right - left) / W, (bottom - top) / H])


def draw_panel(fig, points, box, cbar_box, xlim, ylim, title, title_x):
    df = pd.DataFrame(points, columns=["x", "y", "label"])
    ax = add_axes_px(fig, *box)
    sns.scatterplot(data=df, x="x", y="y", hue="label", palette="viridis", hue_norm=(0, 5),
                    s=86, linewidth=0, legend=False, ax=ax)
    ax.set_xlim(xlim)
    ax.set_ylim(ylim)
    ax.set_xlabel("")
    ax.set_ylabel("")
    ax.set_xticks([-10, -5, 0, 5])
    ax.set_yticks([-10, -5, 0, 5, 10])
    ax.tick_params(labelsize=10.5, labelcolor="#333333", color="#555555", width=1.1, length=4.5)
    for spine in ax.spines.values():
        spine.set_color("#666666")
        spine.set_linewidth(1.3)
    ax.set_title(title, fontsize=13.2, color="#222222", x=title_x, pad=8)

    cax = add_axes_px(fig, *cbar_box)
    cbar = fig.colorbar(ScalarMappable(norm=Normalize(0, 5), cmap="viridis"), cax=cax)
    cbar.set_label("Cluster Label", fontsize=10.5, color="#333333", labelpad=4)
    cbar.set_ticks([0, 1, 2, 3, 4, 5])
    cbar.ax.tick_params(labelsize=10.5, labelcolor="#333333", color="#555555", width=1.1, length=4.5)
    cbar.outline.set_edgecolor("#666666")
    cbar.outline.set_linewidth(1.2)


fig = plt.figure(figsize=(W / 100, H / 100), dpi=100)

draw_panel(fig, left_a + left_a_top + left_b + left_b_top + left_c + left_c_top + left_d + left_d_top,
           (104, 37, 542, 466), (568, 37, 590, 466),
           (-14.5, 8.67), (-10.87, 13.93), title_left, 0.5)

right_points = (right_a_edge + core_points(right_a_core) + right_b_edge + core_points(right_b_core)
                + right_c_edge + core_points(right_c_core) + right_d_edge + core_points(right_d_core))
draw_panel(fig, right_points,
           (707, 35, 1157, 457), (1186, 35, 1206, 457),
           (-14.43, 9.01), (-11.78, 14.55), title_right, 0.587)

for line, y in zip(metrics_left, [527, 544, 562, 579]):
    fig.text(58 / W, 1 - y / H, line, family="Liberation Mono", fontsize=10.5, color="#333333", va="center")
for line, y in zip(metrics_right, [518, 539, 559, 580]):
    fig.text(660 / W, 1 - y / H, line, family="Liberation Mono", fontsize=11.3, color="#333333", va="center")

fig.savefig("out.png", dpi=100)
plt.close(fig)
